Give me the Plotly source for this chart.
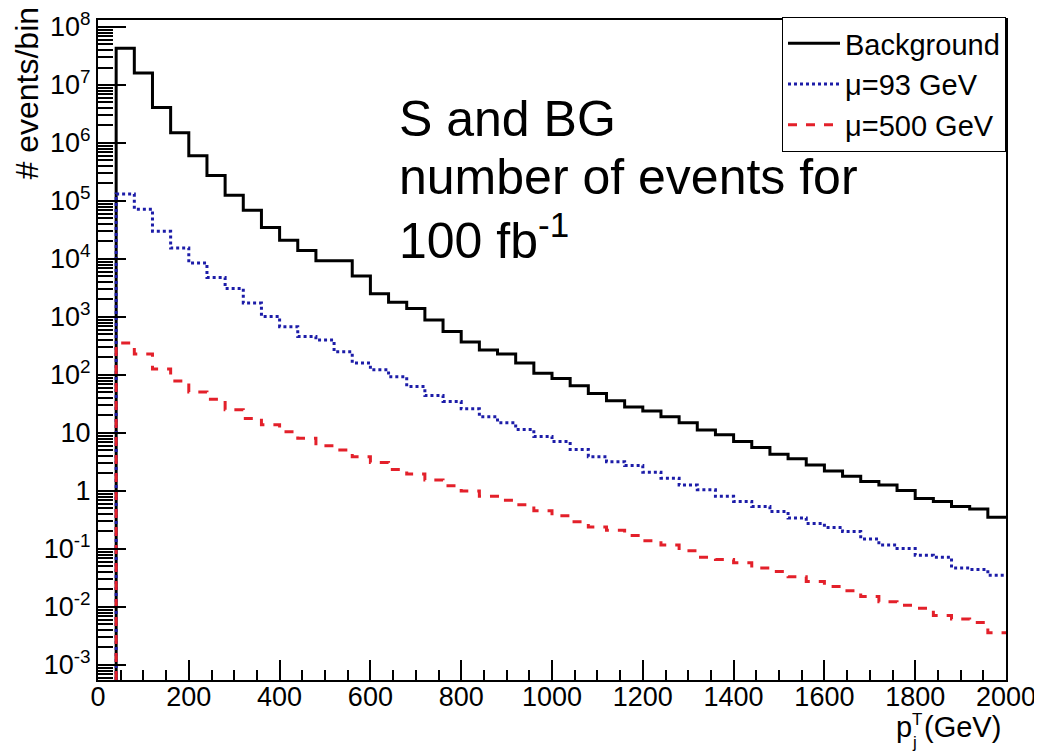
import plotly.graph_objects as go

# ---------------- data ----------------
bin_edges = list(range(40, 2001, 40))  # GeV, 49 bins from 40 to 2000

background = [4.3e7, 1.6e7, 4.1e6, 1.5e6, 6.0e5, 2.75e5, 1.26e5, 6.9e4, 3.5e4, 2.1e4,
              1.4e4, 9.3e3, 9.3e3, 5.1e3, 2.5e3, 1.8e3, 1.4e3, 890, 560, 370,
              270, 230, 160, 107, 87, 65, 48, 36, 28, 24,
              19, 15, 11.2, 9.3, 7.1, 5.6, 4.3, 3.6, 2.8, 2.2,
              1.8, 1.45, 1.26, 1.02, 0.74, 0.66, 0.54, 0.49, 0.35]

mu93 = [1.32e5, 7.2e4, 3.0e4, 1.55e4, 8.5e3, 4.8e3, 3.1e3, 1.74e3, 1.02e3, 680,
        460, 400, 250, 160, 123, 93, 63, 44, 35, 26,
        19, 15, 11.5, 8.7, 7.1, 5.2, 3.9, 3.2, 2.75, 2.1,
        1.66, 1.26, 1.05, 0.81, 0.66, 0.54, 0.44, 0.34, 0.275, 0.234,
        0.20, 0.148, 0.117, 0.102, 0.078, 0.072, 0.047, 0.044, 0.035]

mu500 = [355, 230, 126, 79, 51, 38, 25, 17.8, 13.8, 10.5,
         8.1, 6.0, 5.1, 3.9, 3.1, 2.35, 1.95, 1.55, 1.23, 1.0,
         0.81, 0.69, 0.575, 0.457, 0.372, 0.295, 0.24, 0.209, 0.17, 0.138,
         0.117, 0.093, 0.072, 0.066, 0.0575, 0.047, 0.041, 0.033, 0.0275, 0.0224,
         0.019, 0.0151, 0.0123, 0.0107, 0.0095, 0.0071, 0.0062, 0.0054, 0.0036]

series_names = ["Background", "\u03bc=93 GeV", "\u03bc=500 GeV"]
x_ticks = list(range(0, 2001, 200))
y_decades = list(range(-3, 9))
y_ticktext = ["10<sup>-3</sup>", "10<sup>-2</sup>", "10<sup>-1</sup>", "1", "10",
              "10<sup>2</sup>", "10<sup>3</sup>", "10<sup>4</sup>", "10<sup>5</sup>",
              "10<sup>6</sup>", "10<sup>7</sup>", "10<sup>8</sup>"]

# ---------------- layout constants ----------------
# the page body has an 8px margin, so the figure is drawn 8px right/down
OFF = 8
W, H = 1042 - OFF, 754 - OFF
L, R, T, B = 90, 36, 12, 74
Y_LOG_RANGE = [-3.26, 8.12]
FONT = "Liberation Sans, Arial, sans-serif"
floor = 10 ** Y_LOG_RANGE[0]


def step_xy(vals):
    xs = [bin_edges[0]] + bin_edges
    ys = [floor] + list(vals) + [vals[-1]]
    return xs, ys


fig = go.Figure()
styles = [
    dict(color="black", width=3, dash="solid"),
    dict(color="#1c1ca8", width=3, dash="dot"),
    dict(color="#e3202a", width=3, dash="dash"),
]
for name, vals, st in zip(series_names, [background, mu93, mu500], styles):
    xs, ys = step_xy(vals)
    fig.add_trace(go.Scatter(x=xs, y=ys, mode="lines", name=name,
                             line=dict(shape="hv", **st)))

minor_y = [k * 10.0 ** n for n in range(-4, 9) for k in range(2, 10)]

pw = W - L - R
ph = H - T - B


def px_x(sx):
    """screen x pixel -> paper x"""
    return (sx - OFF - L) / pw


def px_y(sy):
    """screen y pixel -> paper y"""
    return (H - B - (sy - OFF)) / ph


fig.update_layout(
    width=W, height=H,
    margin=dict(l=L, r=R, t=T, b=B, pad=0, autoexpand=False),
    paper_bgcolor="white", plot_bgcolor="white",
    font=dict(family=FONT, size=27, color="black"),
    showlegend=True,
    legend=dict(x=1, y=px_y(17), xanchor="right", yanchor="top",
                bgcolor="white", bordercolor="black", borderwidth=1,
                font=dict(size=29, family=FONT), tracegroupgap=0,
                itemwidth=52),
    xaxis=dict(range=[0, 2000], tickmode="array", tickvals=x_ticks,
               ticks="inside", ticklen=20, tickwidth=1.5, tickcolor="black",
               showline=True, linecolor="black", linewidth=2, mirror=True,
               showgrid=False, zeroline=False, automargin=False,
               ticklabelstandoff=-8,
               tickfont=dict(size=27, family=FONT),
               minor=dict(dtick=50, tick0=0, ticks="inside", ticklen=10,
                          tickwidth=1.5, tickcolor="black", showgrid=False)),
    yaxis=dict(type="log", range=Y_LOG_RANGE, tickmode="array",
               tickvals=[10.0 ** d for d in y_decades], ticktext=y_ticktext,
               ticks="inside", ticklen=28, tickwidth=1.5, tickcolor="black",
               showline=True, linecolor="black", linewidth=2, mirror=True,
               showgrid=False, zeroline=False, automargin=False,
               tickfont=dict(size=27, family=FONT),
               minor=dict(tickmode="array", tickvals=minor_y, ticks="inside",
                          ticklen=15, tickwidth=1.5, tickcolor="black",
                          showgrid=False)),
)

annotations = [
    # in-plot text
    dict(text="S and BG", x=px_x(397), y=px_y(119), xanchor="left", yanchor="middle",
         font=dict(size=50)),
    dict(text="number of events for", x=px_x(397), y=px_y(177), xanchor="left",
         yanchor="middle", font=dict(size=50)),
    dict(text="100 fb<sup>-1</sup>", x=px_x(397), y=px_y(237), xanchor="left",
         yanchor="middle", font=dict(size=50)),
    # y-axis title
    dict(text="# events/bin", x=px_x(26), y=px_y(5), xanchor="center", yanchor="top",
         textangle=-90, font=dict(size=32)),
    # x-axis title p_j^T(GeV)
    dict(text="(GeV)", x=px_x(1003), y=px_y(727), xanchor="right", yanchor="middle",
         font=dict(size=29)),
    dict(text="p", x=px_x(914), y=px_y(727), xanchor="right", yanchor="middle",
         font=dict(size=29)),
    dict(text="T", x=px_x(911), y=px_y(719), xanchor="left", yanchor="middle",
         font=dict(size=17), borderpad=0),
    dict(text="j", x=px_x(911), y=px_y(742), xanchor="left", yanchor="middle",
         font=dict(size=17), borderpad=0),
]
for a in annotations:
    a.update(xref="paper", yref="paper", showarrow=False)
    a.setdefault("font", {})
    a["font"].setdefault("family", FONT)
    a["font"].setdefault("color", "black")
fig.update_layout(annotations=annotations)

fig.write_html("out.html")
